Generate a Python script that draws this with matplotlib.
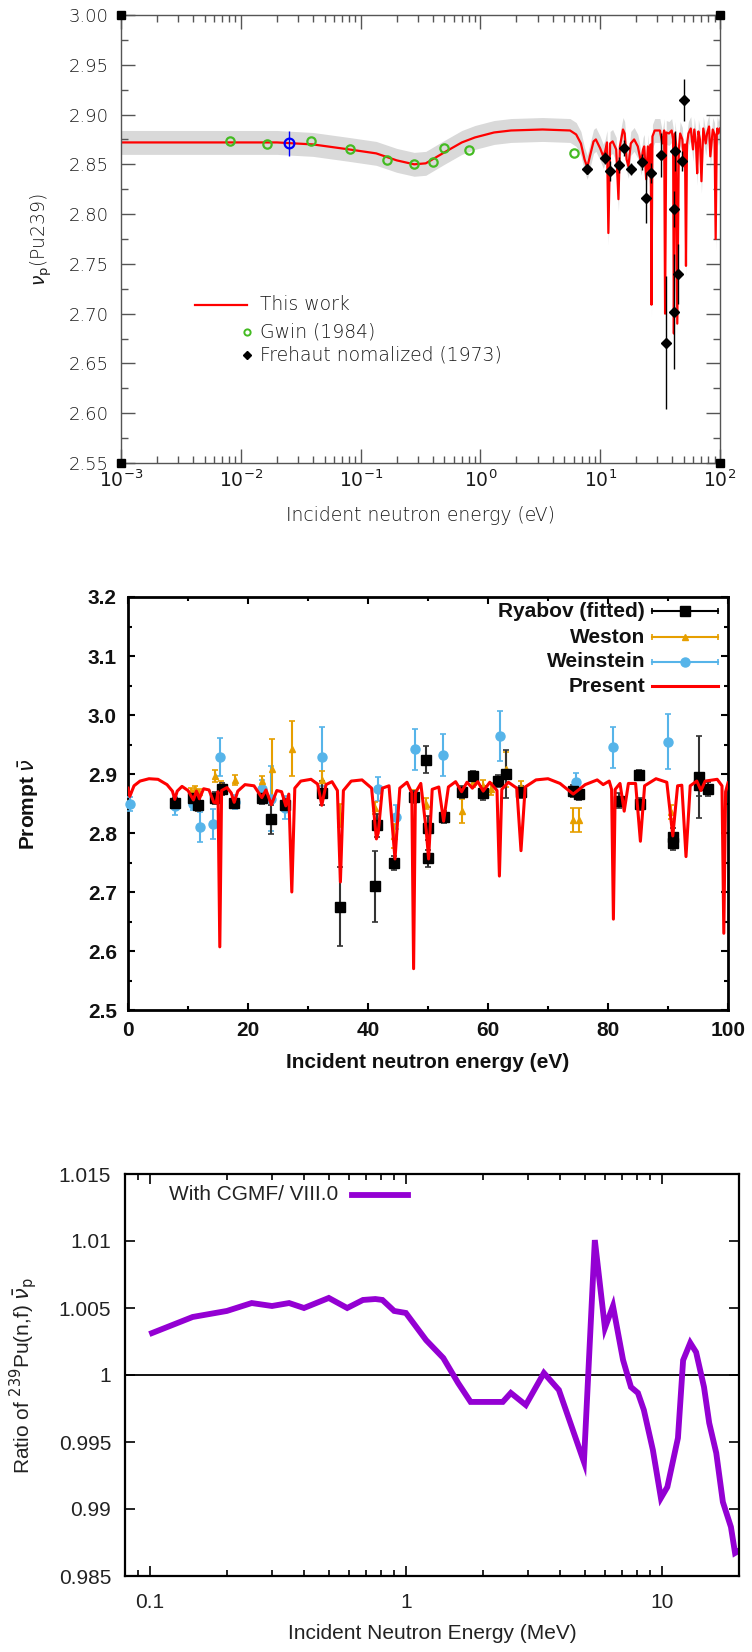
import numpy as np
import matplotlib.pyplot as plt

plt.rcParams['font.family'] = ['Liberation Sans', 'DejaVu Sans']

# ---------------- top: nu_p(Pu239), 1 meV - 100 eV ----------------
work_E = [1e-3, 0.01, 0.02, 0.04, 0.08, 0.135, 0.2, 0.28, 0.35, 0.5, 0.7, 0.9, 1.3,
          1.8, 3.3, 5.6, 6.3, 6.9, 7.4, 7.8, 8.2, 8.8, 9.2, 10.0, 10.6, 11.0, 11.4,
          11.7, 12.1, 12.7, 13.6, 14.2, 14.6, 15.5, 16.0, 16.6, 17.2, 18.0, 19.2,
          20.6, 22.0, 22.8, 23.3, 24.2, 25.0, 25.6, 26.4, 26.8, 27.3, 28.5, 31.5,
          33.0, 34.2, 34.8, 35.6, 37.5, 39.5, 40.6, 41.2, 42.0, 43.0, 44.0, 45.3,
          46.5, 48.5, 50.0, 51.0, 52.0, 53.0, 54.5, 57.0, 59.5, 61.0, 63.0, 64.5,
          66.0, 68.0, 70.0, 72.5, 76.0, 78.0, 81.0, 83.0, 87.0, 90.0, 92.0, 94.0,
          95.0, 97.0, 100.0]
work_nu = [2.872, 2.872, 2.872, 2.870, 2.865, 2.861, 2.854, 2.850, 2.851, 2.862,
           2.872, 2.877, 2.882, 2.884, 2.885, 2.884, 2.880, 2.871, 2.855, 2.847,
           2.858, 2.873, 2.875, 2.866, 2.858, 2.863, 2.872, 2.781, 2.871, 2.873,
           2.865, 2.815, 2.868, 2.885, 2.881, 2.855, 2.848, 2.871, 2.875, 2.868,
           2.851, 2.865, 2.868, 2.835, 2.868, 2.841, 2.870, 2.709, 2.878, 2.884,
           2.884, 2.871, 2.884, 2.700, 2.882, 2.881, 2.884, 2.875, 2.680, 2.881,
           2.870, 2.690, 2.865, 2.881, 2.875, 2.848, 2.870, 2.748, 2.870, 2.881,
           2.886, 2.865, 2.885, 2.871, 2.841, 2.883, 2.875, 2.833, 2.886, 2.871,
           2.881, 2.888, 2.858, 2.885, 2.880, 2.775, 2.880, 2.886, 2.881, 2.886]
work_err = 0.012

gwin_E = [0.0081, 0.0166, 0.0385, 0.081, 0.166, 0.28, 0.40, 0.50, 0.81, 6.0]
gwin_nu = [2.873, 2.870, 2.873, 2.865, 2.854, 2.850, 2.852, 2.866, 2.864, 2.861]

thermal_E = [0.0253]
thermal_nu = [2.871]
thermal_err = [0.0125]

frehaut_E = [7.8, 11.0, 12.0, 14.4, 15.8, 18.0, 22.4, 24.0, 26.4, 32.2, 35.5,
             41.5, 41.5, 42.2, 44.6, 47.9, 49.9]
frehaut_nu = [2.845, 2.856, 2.843, 2.849, 2.866, 2.845, 2.852, 2.816, 2.841,
              2.859, 2.671, 2.805, 2.702, 2.863, 2.740, 2.853, 2.915]
frehaut_err = [0.005, 0.006, 0.010, 0.008, 0.008, 0.006, 0.008, 0.025, 0.010,
               0.022, 0.067, 0.018, 0.058, 0.020, 0.030, 0.010, 0.021]

top_xticks = [1e-3, 1e-2, 1e-1, 1e0, 1e1, 1e2]
top_xlabels = [r'$10^{-3}$', r'$10^{-2}$', r'$10^{-1}$', r'$10^{0}$', r'$10^{1}$', r'$10^{2}$']
top_yticks = [2.55, 2.60, 2.65, 2.70, 2.75, 2.80, 2.85, 2.90, 2.95, 3.00]
top_ylabels = ['2.55', '2.60', '2.65', '2.70', '2.75', '2.80', '2.85', '2.90', '2.95', '3.00']

# ---------------- middle: prompt nu, 0 - 100 eV (linear) ----------------
present_E = [0, 0.3, 1, 2, 3.5, 5, 6.5, 7.4, 7.8, 8.2, 9.0, 10.0, 10.9, 11.4, 11.9,
             12.6, 13.5, 14.3, 14.7, 15.0, 15.3, 15.6, 16.5, 17.2, 17.7, 18.3, 19.5,
             21.0, 22.3, 23.0, 23.9, 24.8, 25.6, 26.3, 26.8, 27.3, 27.8, 28.8, 30.5,
             31.6, 32.3, 33.0, 34.0, 34.9, 35.4, 35.9, 37.2, 39.0, 40.6, 41.4, 41.7,
             42.4, 43.5, 44.5, 45.3, 46.5, 47.3, 47.6, 47.9, 48.8, 49.7, 50.1, 50.7,
             51.8, 52.6, 53.4, 54.6, 55.6, 56.5, 57.4, 58.3, 59.2, 60.3, 61.5, 61.9,
             62.3, 63.4, 64.8, 65.5, 66.2, 68.0, 70.0, 72.0, 74.2, 76.2, 78.2, 79.2,
             80.2, 80.6, 80.9, 81.2, 82.0, 82.7, 83.4, 84.6, 85.4, 86.1, 88.0, 89.8,
             90.8, 91.6, 92.3, 93.0, 93.7, 94.8, 95.5, 96.2, 98.2, 99.0, 99.3, 99.6,
             100.0]
present_nu = [2.876, 2.862, 2.880, 2.888, 2.892, 2.891, 2.882, 2.871, 2.857, 2.871,
              2.879, 2.872, 2.856, 2.871, 2.858, 2.875, 2.873, 2.852, 2.851, 2.870,
              2.607, 2.872, 2.877, 2.868, 2.852, 2.871, 2.882, 2.880, 2.860, 2.873,
              2.848, 2.872, 2.870, 2.846, 2.866, 2.700, 2.876, 2.888, 2.891, 2.883,
              2.847, 2.882, 2.887, 2.872, 2.717, 2.872, 2.888, 2.890, 2.876, 2.790,
              2.800, 2.876, 2.880, 2.756, 2.876, 2.886, 2.868, 2.570, 2.868, 2.884,
              2.805, 2.756, 2.874, 2.878, 2.820, 2.878, 2.887, 2.870, 2.886, 2.876,
              2.887, 2.871, 2.886, 2.872, 2.727, 2.874, 2.886, 2.876, 2.770, 2.878,
              2.890, 2.892, 2.884, 2.866, 2.882, 2.890, 2.882, 2.888, 2.874, 2.654,
              2.874, 2.884, 2.837, 2.884, 2.884, 2.786, 2.880, 2.892, 2.886, 2.795,
              2.880, 2.881, 2.760, 2.880, 2.888, 2.872, 2.888, 2.891, 2.880, 2.630,
              2.870, 2.885]

ryabov_E = [7.8, 10.8, 11.7, 14.5, 15.6, 17.7, 22.3, 23.9, 26.2, 32.3, 35.4, 41.2,
            41.5, 44.4, 47.6, 49.7, 50.0, 50.0, 52.7, 55.6, 57.5, 59.2, 61.7, 63.0,
            65.5, 74.2, 75.2, 81.8, 85.2, 85.4, 90.8, 90.8, 95.2, 95.2, 96.7]
ryabov_nu = [2.851, 2.859, 2.847, 2.860, 2.875, 2.851, 2.859, 2.823, 2.848, 2.868,
             2.675, 2.710, 2.813, 2.749, 2.861, 2.924, 2.808, 2.757, 2.827, 2.870,
             2.897, 2.868, 2.888, 2.900, 2.870, 2.871, 2.866, 2.855, 2.898, 2.849,
             2.793, 2.783, 2.895, 2.882, 2.875]
ryabov_err = [0.008, 0.008, 0.010, 0.010, 0.010, 0.008, 0.010, 0.025, 0.010, 0.020,
              0.067, 0.060, 0.020, 0.012, 0.010, 0.023, 0.020, 0.015, 0.010, 0.010,
              0.008, 0.012, 0.010, 0.040, 0.010, 0.010, 0.010, 0.012, 0.008, 0.010,
              0.015, 0.012, 0.070, 0.020, 0.012]

weston_E = [10.5, 11.2, 11.8, 14.5, 15.5, 17.8, 22.3, 24.0, 27.4, 32.3, 35.3, 41.2,
            44.4, 47.6, 49.7, 55.6, 57.5, 59.2, 60.5, 63.0, 65.5, 74.2, 75.2, 90.5]
weston_nu = [2.872, 2.875, 2.870, 2.897, 2.880, 2.890, 2.888, 2.908, 2.943, 2.890,
             2.830, 2.843, 2.795, 2.863, 2.850, 2.837, 2.886, 2.880, 2.875, 2.908,
             2.878, 2.822, 2.822, 2.835]
weston_err = [0.005, 0.005, 0.005, 0.010, 0.008, 0.008, 0.008, 0.052, 0.047, 0.015,
              0.020, 0.010, 0.020, 0.010, 0.010, 0.020, 0.008, 0.010, 0.010, 0.030,
              0.010, 0.020, 0.020, 0.012]

wein_E = [0.3, 7.8, 10.8, 12.0, 14.2, 15.4, 17.8, 22.3, 23.9, 26.2, 32.3, 41.7,
          44.7, 47.8, 52.5, 62.0, 74.7, 80.9, 90.0]
wein_nu = [2.849, 2.846, 2.849, 2.810, 2.815, 2.929, 2.852, 2.875, 2.858, 2.843,
           2.929, 2.875, 2.827, 2.942, 2.932, 2.964, 2.887, 2.945, 2.955]
wein_err = [0.012, 0.015, 0.010, 0.025, 0.025, 0.032, 0.012, 0.015, 0.055, 0.020,
            0.050, 0.020, 0.020, 0.035, 0.035, 0.042, 0.015, 0.035, 0.047]

mid_xticks = [0, 20, 40, 60, 80, 100]
mid_xlabels = ['0', '20', '40', '60', '80', '100']
mid_yticks = [2.5, 2.6, 2.7, 2.8, 2.9, 3.0, 3.1, 3.2]
mid_ylabels = ['2.5', '2.6', '2.7', '2.8', '2.9', '3.0', '3.1', '3.2']

# ---------------- bottom: ratio CGMF / ENDF/B-VIII.0 ----------------
cgmf_E = [0.102, 0.147, 0.2, 0.25, 0.3, 0.35, 0.40, 0.50, 0.59, 0.68, 0.76, 0.81,
          0.90, 1.0, 1.2, 1.4, 1.6, 1.79, 2.39, 2.57, 2.94, 3.46, 3.96, 4.96, 5.47,
          5.99, 6.44, 7.05, 7.57, 8.06, 8.5, 9.22, 9.91, 10.5, 11.55, 12.1, 12.9,
          13.6, 14.6, 15.3, 16.3, 17.3, 18.6, 19.3, 19.9]
cgmf_ratio = [1.00313, 1.00433, 1.00478, 1.00537, 1.00515, 1.00537, 1.00500,
              1.00575, 1.00500, 1.00560, 1.00567, 1.00560, 1.00478, 1.00463,
              1.00260, 1.00127, 0.99940, 0.99799, 0.99799, 0.99866, 0.99776,
              1.00015, 0.99888, 0.99351, 1.01007, 1.00351, 1.00515, 1.00112,
              0.99910, 0.99866, 0.99739, 0.99440, 0.99082, 0.99164, 0.99530,
              1.00110, 1.00240, 1.00170, 0.99910, 0.99642, 0.99418, 0.99052,
              0.98866, 0.98672, 0.98687]

bot_xticks = [0.1, 1, 10]
bot_xlabels = ['0.1', '1', '10']
bot_yticks = [0.985, 0.99, 0.995, 1.0, 1.005, 1.01, 1.015]
bot_ylabels = ['0.985', '0.99', '0.995', '1', '1.005', '1.01', '1.015']

W, H = 752, 1652
fig = plt.figure(figsize=(W / 100, H / 100), dpi=100)


def frame(x0, y0, x1, y1):
    return [x0 / W, 1 - y1 / H, (x1 - x0) / W, (y1 - y0) / H]


# ===== top panel =====
thin = dict(family='DejaVu Sans', weight='light', color='#1a1a1a')
ax1 = fig.add_axes(frame(121, 15, 720, 463))
w_nu = np.array(work_nu)
ax1.fill_between(work_E, w_nu - work_err, w_nu + work_err, color='#d9d9d9', lw=0, zorder=1)
ax1.plot(work_E, work_nu, color='#ff0000', lw=1.6, zorder=2)
ax1.errorbar(frehaut_E, frehaut_nu, yerr=frehaut_err, fmt='D', color='k', ms=5,
             elinewidth=1.0, capsize=0, zorder=4)
ax1.plot(gwin_E, gwin_nu, 'o', mfc='none', mec='#44bb22', mew=1.6, ms=6, zorder=5)
ax1.errorbar(thermal_E, thermal_nu, yerr=thermal_err, fmt='o', mfc='none', mec='#0000ff',
             ecolor='#0000ff', mew=1.6, ms=7, elinewidth=1.0, capsize=0, zorder=6)
ax1.set_xscale('log')
ax1.set_xlim(1e-3, 1e2)
ax1.set_ylim(2.55, 3.00)
ax1.set_xticks(top_xticks, top_xlabels, color='#1a1a1a', fontsize=13.5)
ax1.set_yticks(top_yticks, top_ylabels, fontsize=13, **thin)
ax1.set_yticks([2.575, 2.625, 2.675, 2.725, 2.775, 2.825, 2.875, 2.925, 2.975], minor=True)
ax1.xaxis.set_minor_locator(plt.LogLocator(base=10, subs=np.arange(2, 10)))
ax1.xaxis.set_minor_formatter(plt.NullFormatter())
for s in ax1.spines.values():
    s.set_color('#555555')
    s.set_linewidth(1.0)
ax1.tick_params(which='both', direction='in', top=True, right=True, color='#555555', width=1.0)
ax1.tick_params(which='major', length=10)
ax1.tick_params(which='minor', length=5)
ax1.tick_params(axis='y', pad=9)
ax1.tick_params(axis='x', pad=5)
ax1.set_xlabel('Incident neutron energy (eV)', fontsize=13.5, **thin)
ax1.xaxis.set_label_coords(0.5, -0.095)
ax1.set_ylabel(r'$\nu_{\rm p}$(Pu239)', fontsize=13.5, **thin)
ax1.yaxis.set_label_coords(-0.112, 0.5)
ax1.plot([0, 1, 0, 1], [0, 0, 1, 1], 's', color='k', ms=6, transform=ax1.transAxes,
         clip_on=False, zorder=10)

# legend drawn by hand: handle to the left, marker at handle end
lx0, lx1, ltx = 0.1235, 0.2104, 0.232
ax1.plot([lx0, lx1], [0.3527, 0.3527], color='#ff0000', lw=1.6, transform=ax1.transAxes)
ax1.text(ltx, 0.3527, 'This work', transform=ax1.transAxes, va='center', fontsize=13.5, **thin)
ax1.plot([lx1], [0.2924], 'o', mfc='none', mec='#44bb22', mew=1.4, ms=4.5, transform=ax1.transAxes)
ax1.text(ltx, 0.2924, 'Gwin (1984)', transform=ax1.transAxes, va='center', fontsize=13.5, **thin)
ax1.plot([lx1], [0.2411], 'D', color='k', ms=4, transform=ax1.transAxes)
ax1.text(ltx, 0.2411, 'Frehaut nomalized (1973)', transform=ax1.transAxes, va='center',
         fontsize=13.5, **thin)

# ===== middle panel =====
ax2 = fig.add_axes(frame(128, 597, 728, 1010))
eb = dict(elinewidth=1.5, capsize=2.5, capthick=1.2, zorder=3)
ax2.errorbar(wein_E, wein_nu, yerr=wein_err, fmt='o', color='#56b4e9', ms=6.5,
             clip_on=False, **eb)
ax2.errorbar(weston_E, weston_nu, yerr=weston_err, fmt='^', color='#e69f00', ms=5, **eb)
ax2.errorbar(ryabov_E, ryabov_nu, yerr=ryabov_err, fmt='s', color='k', ecolor='#333333',
             ms=7, **eb)
ax2.plot(present_E, present_nu, color='#ff0000', lw=2.2, zorder=4)
ax2.set_xlim(0, 100)
ax2.set_ylim(2.5, 3.2)
bold = dict(fontsize=15, fontweight='bold', color='#111111')
ax2.set_xticks(mid_xticks, mid_xlabels, **bold)
ax2.set_yticks(mid_yticks, mid_ylabels, **bold)
ax2.set_xticks([10, 30, 50, 70, 90], minor=True)
ax2.set_yticks([2.55, 2.65, 2.75, 2.85, 2.95, 3.05, 3.15], minor=True)
for s in ax2.spines.values():
    s.set_linewidth(2.0)
ax2.tick_params(which='both', direction='in', top=True, right=True, width=1.5)
ax2.tick_params(which='major', length=5)
ax2.tick_params(which='minor', length=3)
ax2.tick_params(axis='y', pad=8)
ax2.tick_params(axis='x', pad=8)
ax2.set_xlabel('Incident neutron energy (eV)', **bold)
ax2.xaxis.set_label_coords(0.5, -0.105)
ax2.set_ylabel(r'Prompt $\bar{\nu}$', **bold)
ax2.yaxis.set_label_coords(-0.145, 0.5)

leg_rows = [('Ryabov (fitted)', 's', 'k', 7, 0.966),
            ('Weston', '^', '#e69f00', 5, 0.903),
            ('Weinstein', 'o', '#56b4e9', 6.5, 0.843),
            ('Present', None, '#ff0000', 0, 0.784)]
for label, mk, col, ms, yy in leg_rows:
    ax2.text(0.862, yy, label, transform=ax2.transAxes, ha='right', va='center', **bold)
    ax2.plot([0.873, 0.983], [yy, yy], color=col, lw=2.2 if mk is None else 1.5,
             transform=ax2.transAxes, clip_on=False)
    if mk is not None:
        ax2.plot([0.873, 0.983], [yy, yy], ls='none', marker='|', color=col, ms=5, mew=1.2,
                 transform=ax2.transAxes, clip_on=False)
        ax2.plot([0.928], [yy], marker=mk, color=col, ms=ms, transform=ax2.transAxes,
                 clip_on=False)

# ===== bottom panel =====
ax3 = fig.add_axes(frame(125, 1174, 739, 1576))
ax3.axhline(1.0, color='k', lw=1.3, zorder=1)
ax3.plot(cgmf_E, cgmf_ratio, color='#9400d3', lw=4.2, solid_joinstyle='miter', zorder=2)
ax3.set_xscale('log')
ax3.set_xlim(0.08, 20)
ax3.set_ylim(0.985, 1.015)
reg = dict(fontsize=15, color='#222222')
ax3.set_xticks(bot_xticks, bot_xlabels, **reg)
ax3.set_yticks(bot_yticks, bot_ylabels, **reg)
ax3.xaxis.set_minor_locator(plt.LogLocator(base=10, subs=np.arange(2, 10)))
ax3.xaxis.set_minor_formatter(plt.NullFormatter())
for s in ax3.spines.values():
    s.set_linewidth(1.6)
ax3.tick_params(which='both', direction='in', top=True, right=True, width=1.2)
ax3.tick_params(which='major', length=7)
ax3.tick_params(which='minor', length=4)
ax3.tick_params(axis='y', pad=10)
ax3.tick_params(axis='x', pad=12)
ax3.set_xlabel('Incident Neutron Energy (MeV)', **reg)
ax3.xaxis.set_label_coords(0.5, -0.12)
ax3.set_ylabel(r'Ratio of $^{239}$Pu(n,f) $\bar{\nu}_{\rm p}$', **reg)
ax3.yaxis.set_label_coords(-0.14, 0.5)
ax3.plot([0.370, 0.461], [0.948, 0.948], color='#9400d3', lw=4.2, transform=ax3.transAxes)
ax3.text(0.347, 0.948, 'With CGMF/ VIII.0', transform=ax3.transAxes, ha='right',
         va='center', **reg)

fig.savefig('out.png', dpi=100)
